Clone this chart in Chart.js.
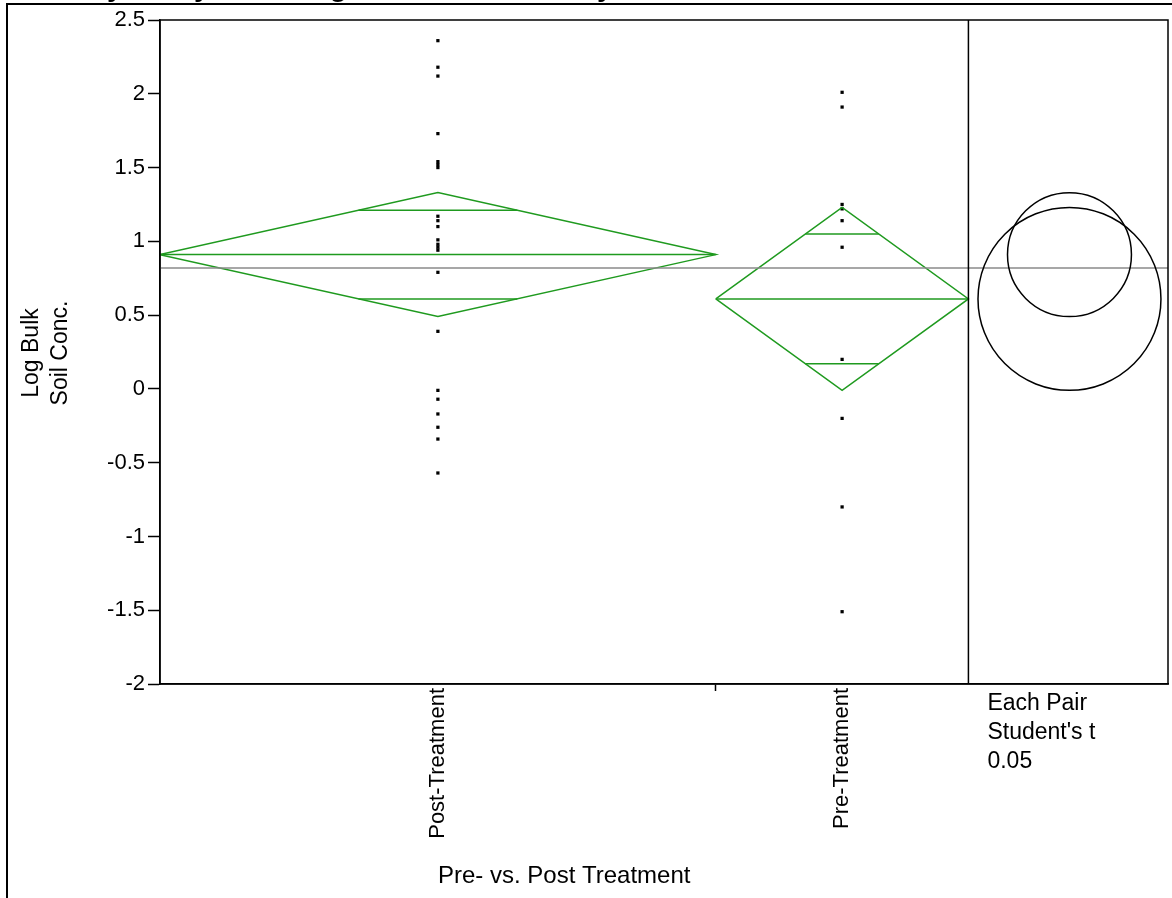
<!DOCTYPE html>
<html>
<head>
<meta charset="utf-8">
<script src="https://cdn.jsdelivr.net/npm/chart.js@4"></script>
<style>
  html, body { margin: 0; padding: 0; background: #fff; }
  #wrap { width: 1172px; height: 898px; position: relative; }
</style>
</head>
<body>
<div id="wrap"><canvas id="chart"></canvas></div>
<script>
// Values
const groups = ['Post-Treatment', 'Pre-Treatment'];
const postValues = [2.36, 2.18, 2.12, 1.73, 1.54, 1.52, 1.50, 1.17, 1.14, 1.10, 1.01, 0.98, 0.96, 0.94, 0.79, 0.39, -0.01, -0.07, -0.17, -0.26, -0.34, -0.57];
const preValues = [2.01, 1.91, 1.25, 1.22, 1.14, 0.96, 0.20, -0.20, -0.80, -1.51];
const groupMeans = [0.91, 0.61];
const ciUpper = [1.33, 1.23];
const ciLower = [0.49, -0.01];
const overlapUpper = [1.21, 1.05];
const overlapLower = [0.61, 0.17];
const grandMean = 0.82;
const yTicks = [-2, -1.5, -1, -0.5, 0, 0.5, 1, 1.5, 2, 2.5];
const circleLabels = ['Each Pair', "Student's t", '0.05'];

const FONT = '"Liberation Sans", Arial, sans-serif';
const GREEN = '#1f9a1f';
const xMax = 39.9;
const circleX = 36;

// group extents along x: width is proportional to the group size
const groupValues = [postValues, preValues];
const starts = [];
let acc = 0;
groupValues.forEach(v => { starts.push(acc); acc += v.length; });
const totalN = acc;

const datasets = [];

// grand mean
datasets.push({
  data: [{ x: 0, y: grandMean }, { x: xMax, y: grandMean }],
  showLine: true, borderColor: '#8a8a8a', borderWidth: 1.5, pointRadius: 0,
});

groupValues.forEach((vals, i) => {
  const s = starts[i];
  const n = vals.length;
  const c = s + n / 2;
  const e = s + n;
  const m = groupMeans[i];
  const line = { showLine: true, borderColor: GREEN, borderWidth: 1.5, pointRadius: 0, tension: 0 };

  // means diamond
  datasets.push(Object.assign({
    data: [{ x: s, y: m }, { x: c, y: ciUpper[i] }, { x: e, y: m }, { x: c, y: ciLower[i] }, { x: s, y: m }],
  }, line));
  // mean line
  datasets.push(Object.assign({ data: [{ x: s, y: m }, { x: e, y: m }] }, line));
  // overlap marks
  const hu = (n / 2) * (1 - (overlapUpper[i] - m) / (ciUpper[i] - m));
  const hl = (n / 2) * (1 - (m - overlapLower[i]) / (m - ciLower[i]));
  datasets.push(Object.assign({ data: [{ x: c - hu, y: overlapUpper[i] }, { x: c + hu, y: overlapUpper[i] }] }, line));
  datasets.push(Object.assign({ data: [{ x: c - hl, y: overlapLower[i] }, { x: c + hl, y: overlapLower[i] }] }, line));

  // data points
  datasets.push({
    data: vals.map(v => ({ x: c, y: v })),
    pointStyle: 'rect', pointRadius: 2.3, borderWidth: 0,
    backgroundColor: '#000', borderColor: '#000',
  });
});

// frame, comparison circles and texts
const decorations = {
  id: 'decorations',
  afterDraw(chart) {
    const { ctx, chartArea: a, scales: { x, y } } = chart;
    ctx.save();
    ctx.strokeStyle = '#000';
    ctx.lineWidth = 1.5;
    ctx.strokeRect(a.left, a.top, a.right - a.left, a.bottom - a.top);

    // divider between the means plot and the circles panel
    const dx = x.getPixelForValue(totalN);
    ctx.beginPath();
    ctx.moveTo(dx, a.top);
    ctx.lineTo(dx, a.bottom);
    ctx.stroke();

    // comparison circles
    const cx = x.getPixelForValue(circleX);
    groups.forEach((g, i) => {
      const cy = y.getPixelForValue(groupMeans[i]);
      const r = Math.abs(y.getPixelForValue(ciUpper[i]) - cy);
      ctx.beginPath();
      ctx.arc(cx, cy, r, 0, Math.PI * 2);
      ctx.stroke();
    });

    // outer report frame
    ctx.lineWidth = 2;
    ctx.beginPath();
    ctx.moveTo(chart.width, 4);
    ctx.lineTo(7, 4);
    ctx.lineTo(7, chart.height);
    ctx.stroke();

    ctx.fillStyle = '#000';
    // report title, cut off by the top of the window
    ctx.font = 'bold 29px ' + FONT;
    ctx.textAlign = 'left';
    ctx.textBaseline = 'alphabetic';
    ctx.fillText('Oneway Analysis of Log Bulk Soil Conc. By Pre- vs. Post Treatment', 12, -4);

    ctx.font = '22px ' + FONT;
    // category labels, rotated
    groups.forEach((g, i) => {
      const px = x.getPixelForValue(starts[i] + groupValues[i].length / 2);
      ctx.save();
      ctx.translate(px, a.bottom + 4);
      ctx.rotate(-Math.PI / 2);
      ctx.textAlign = 'right';
      ctx.textBaseline = 'middle';
      ctx.fillText(g, 0, 0);
      ctx.restore();
    });

    // x axis title, centered under the means plot
    ctx.font = '24px ' + FONT;
    ctx.textAlign = 'center';
    ctx.textBaseline = 'alphabetic';
    ctx.fillText('Pre- vs. Post Treatment', (a.left + dx) / 2, 883);

    // y axis title
    ctx.font = '23px ' + FONT;
    ctx.textBaseline = 'middle';
    ctx.save();
    ctx.translate(32, 353);
    ctx.rotate(-Math.PI / 2);
    ctx.fillText('Log Bulk', 0, 0);
    ctx.fillText('Soil Conc.', 0, 29);
    ctx.restore();

    // circles panel caption
    ctx.textAlign = 'left';
    ctx.textBaseline = 'alphabetic';
    circleLabels.forEach((t, i) => ctx.fillText(t, dx + 19, a.bottom + 26 + i * 29));
    ctx.restore();
  }
};

new Chart(document.getElementById('chart').getContext('2d'), {
  type: 'scatter',
  data: { datasets },
  options: {
    responsive: true,
    maintainAspectRatio: false,
    animation: false,
    layout: { padding: { top: 20, right: 4, left: 0, bottom: 0 } },
    plugins: { legend: { display: false }, tooltip: { enabled: false } },
    scales: {
      x: {
        type: 'linear', min: 0, max: xMax,
        afterBuildTicks: (s) => { s.ticks = [{ value: groupValues[0].length }]; },
        afterFit: (s) => { s.height = 214; },
        ticks: { display: false },
        grid: { drawOnChartArea: false, drawTicks: true, tickLength: 7, tickColor: '#000', tickWidth: 1.5 },
        border: { display: true, color: '#000', width: 1.5 },
      },
      y: {
        type: 'linear', min: yTicks[0], max: yTicks[yTicks.length - 1],
        afterBuildTicks: (s) => { s.ticks = yTicks.map(v => ({ value: v })); },
        afterFit: (s) => { s.width = 160; },
        ticks: { color: '#000', font: { family: FONT, size: 22 }, padding: 3, callback: (v) => String(v) },
        grid: { drawOnChartArea: false, drawTicks: true, tickLength: 12, tickColor: '#000', tickWidth: 1.5 },
        border: { display: true, color: '#000', width: 1.5 },
      },
    },
  },
  plugins: [decorations],
});
</script>
</body>
</html>
